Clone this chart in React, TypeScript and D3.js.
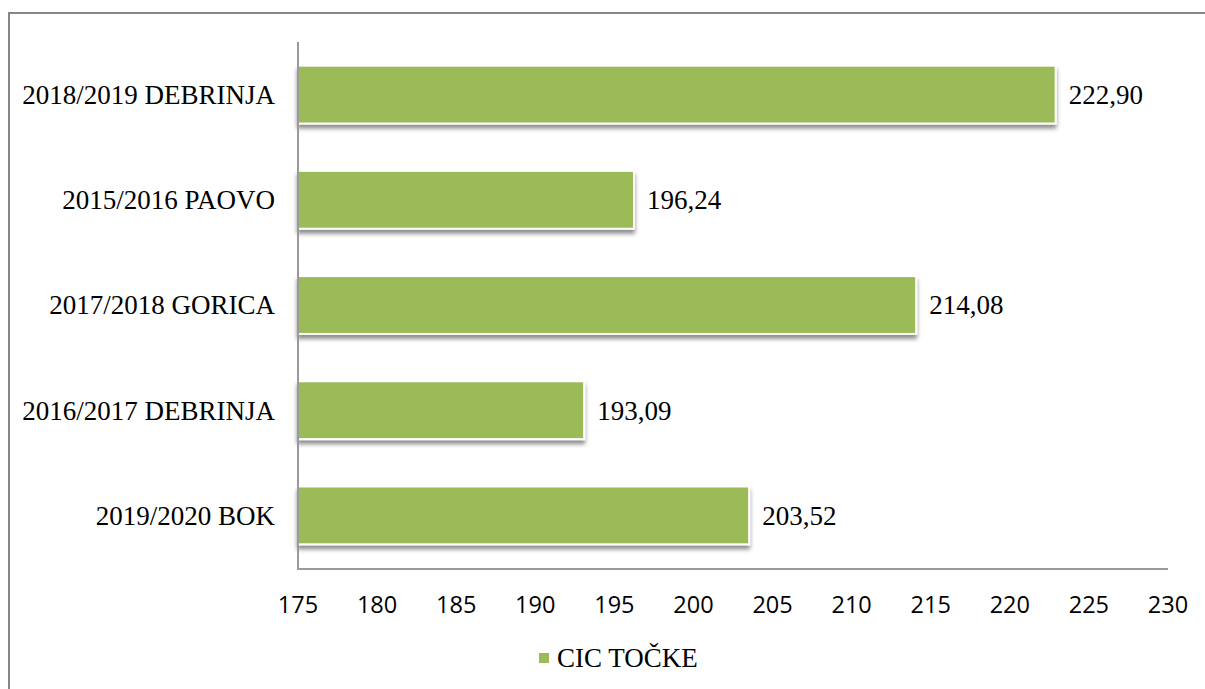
import React from 'react';
import * as d3 from 'd3';

const categories = ['2018/2019 DEBRINJA', '2015/2016 PAOVO', '2017/2018 GORICA', '2016/2017 DEBRINJA', '2019/2020 BOK'];
const values = [222.9, 196.24, 214.08, 193.09, 203.52];
const ticks = [175, 180, 185, 190, 195, 200, 205, 210, 215, 220, 225, 230];
const seriesName = 'CIC TOČKE';

const W = 1205;
const H = 689;
const serif = '"Liberation Serif", "Times New Roman", serif';
const green = '#9BBB59';

const App = () => {
  const x = d3.scaleLinear().domain([175, 230]).range([298, 1168]);
  const y = d3.scaleBand().domain(categories).range([42, 568]).paddingInner(0.45).paddingOuter(0.225);
  const fmt = (v: number) => v.toFixed(2).replace('.', ',');

  return (
    <svg width={W} height={H} style={{ position: 'absolute', left: 0, top: 0, display: 'block', background: '#fff' }}>
      <defs>
        <filter id="shadow" x="-5%" y="-30%" width="110%" height="160%">
          <feDropShadow dx="0" dy="4" stdDeviation="2" floodColor="#000" floodOpacity="0.45" />
        </filter>
      </defs>
      {/* outer frame, right and bottom edges fall outside the picture */}
      <rect x={9} y={13} width={1200} height={700} fill="none" stroke="#868686" strokeWidth={2} />

      {/* bars */}
      {categories.map((c, i) => (
        <rect
          key={c}
          x={x(175)}
          y={y(c)}
          width={x(values[i]) - x(175)}
          height={y.bandwidth()}
          fill={green}
          stroke="#fff"
          strokeWidth={2}
          filter="url(#shadow)"
        />
      ))}

      {/* axes */}
      <line x1={298} x2={298} y1={42} y2={569} stroke="#9a9a9a" strokeWidth={2} />
      <line x1={297} x2={x(230)} y1={569} y2={569} stroke="#9a9a9a" strokeWidth={2} />

      {/* category labels */}
      {categories.map(c => (
        <text key={c} x={275} y={(y(c) as number) + y.bandwidth() / 2} dy="0.35em" textAnchor="end"
          fontFamily={serif} fontSize={27} fill="#000">{c}</text>
      ))}

      {/* value labels */}
      {categories.map((c, i) => (
        <text key={c} x={x(values[i]) + 13} y={(y(c) as number) + y.bandwidth() / 2} dy="0.35em"
          fontFamily={serif} fontSize={27} fill="#000">{fmt(values[i])}</text>
      ))}

      {/* x tick labels */}
      {ticks.map(t => (
        <text key={t} x={x(t)} y={613} textAnchor="middle" fontFamily='"Open Sans", sans-serif'
          fontSize={23.5} fill="#000">{t}</text>
      ))}

      {/* legend */}
      <rect x={539} y={653} width={10} height={10} fill={green} />
      <text x={557} y={667} fontFamily={serif} fontSize={27} fill="#000">{seriesName}</text>
    </svg>
  );
};

export default App;
